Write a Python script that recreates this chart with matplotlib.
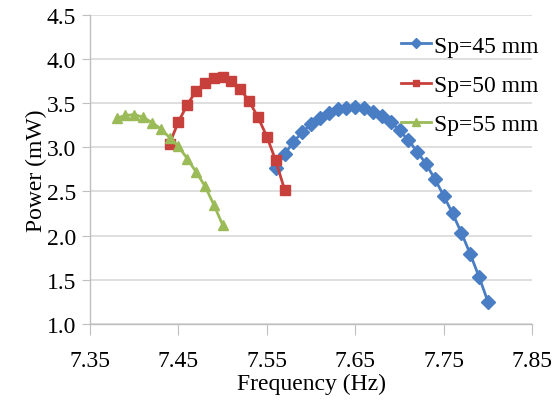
import numpy as np
import matplotlib
matplotlib.use('Agg')
import matplotlib.pyplot as plt

# Power vs frequency for three spacings
freq_45 = [7.56, 7.57, 7.58, 7.59, 7.60, 7.61, 7.62, 7.63, 7.64, 7.65, 7.66, 7.67, 7.68,
           7.69, 7.70, 7.71, 7.72, 7.73, 7.74, 7.75, 7.76, 7.77, 7.78, 7.79, 7.80]
power_45 = [2.77, 2.92, 3.06, 3.17, 3.26, 3.33, 3.39, 3.43, 3.45, 3.46, 3.44, 3.40, 3.35,
            3.29, 3.19, 3.08, 2.95, 2.81, 2.64, 2.45, 2.25, 2.03, 1.79, 1.53, 1.25]

freq_50 = [7.44, 7.45, 7.46, 7.47, 7.48, 7.49, 7.50, 7.51, 7.52, 7.53, 7.54, 7.55, 7.56, 7.57]
power_50 = [3.04, 3.29, 3.48, 3.64, 3.73, 3.79, 3.80, 3.75, 3.66, 3.52, 3.34, 3.12, 2.85, 2.52]

freq_55 = [7.38, 7.39, 7.40, 7.41, 7.42, 7.43, 7.44, 7.45, 7.46, 7.47, 7.48, 7.49, 7.50]
power_55 = [3.33, 3.36, 3.37, 3.34, 3.28, 3.21, 3.11, 3.01, 2.87, 2.72, 2.56, 2.35, 2.12]

labels = ['Sp=45 mm', 'Sp=50 mm', 'Sp=55 mm']
x_ticks = [7.35, 7.45, 7.55, 7.65, 7.75, 7.85]
y_ticks = [1.0, 1.5, 2.0, 2.5, 3.0, 3.5, 4.0, 4.5]

plt.rcParams['font.family'] = ['Liberation Serif', 'DejaVu Serif']

fig = plt.figure(figsize=(5.59, 4.06), dpi=100)
ax = fig.add_axes([0.161, 0.2, 0.791, 0.761])

ax.plot(freq_45, power_45, color='#4A7EC4', marker='D', markersize=7, lw=2, label=labels[0])
ax.plot(freq_50, power_50, color='#C8403C', marker='s', markersize=6.5, lw=2, label=labels[1])
ax.plot(freq_55, power_55, color='#9BBB59', marker='^', markersize=7.5, lw=2, label=labels[2])

ax.set_xlim(7.35, 7.85)
ax.set_ylim(1.0, 4.5)
ax.set_xticks(x_ticks)
ax.set_yticks(y_ticks)
ax.set_xticklabels([f'{v:.2f}' for v in x_ticks])
ax.set_yticklabels([f'{v:.1f}' for v in y_ticks])
ax.yaxis.grid(True, color='#d9d9d9', lw=1.2)
ax.set_axisbelow(True)

for s in ['top', 'right']:
    ax.spines[s].set_visible(False)
for s in ['left', 'bottom']:
    ax.spines[s].set_color('#bfbfbf')
    ax.spines[s].set_linewidth(1)
ax.tick_params(axis='both', labelsize=17, color='#bfbfbf', direction='out')
ax.tick_params(axis='x', length=8, pad=11)
ax.tick_params(axis='y', length=6, pad=4)

ax.set_xlabel('Frequency (Hz)', fontsize=17, labelpad=1)
ax.set_ylabel('Power (mW)', fontsize=17, labelpad=0)

ax.legend(loc='upper right', bbox_to_anchor=(1.035, 0.965), frameon=False, fontsize=17,
          handlelength=1.3, handletextpad=0.1, labelspacing=0.75, borderaxespad=0,
          markerscale=0.75)

fig.savefig('out.png', dpi=100)
